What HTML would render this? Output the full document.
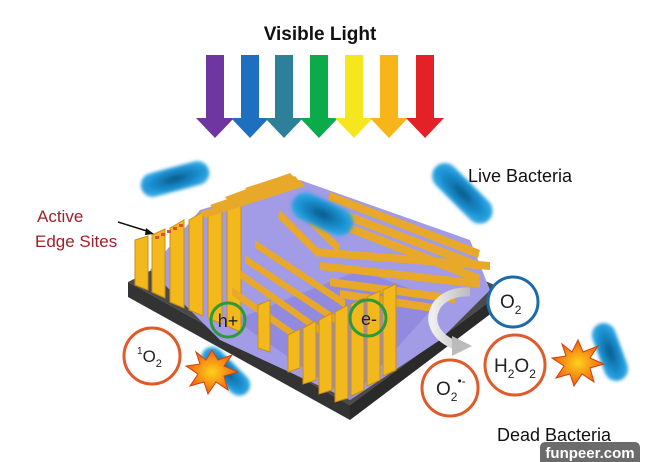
<!DOCTYPE html>
<html><head><meta charset="utf-8"><style>
html,body{margin:0;padding:0;background:#fff;}
svg{display:block;}
text{font-family:"Liberation Sans",sans-serif;}
</style></head><body>
<svg width="660" height="462" viewBox="0 0 660 462" xmlns="http://www.w3.org/2000/svg">
<defs>
<radialGradient id="bac" cx="50%" cy="50%" r="60%"><stop offset="0" stop-color="#0a5a8a"/><stop offset="0.6" stop-color="#1a8fd0"/><stop offset="1" stop-color="#3ab0ea"/></radialGradient>
<radialGradient id="boom" cx="50%" cy="50%" r="50%"><stop offset="0" stop-color="#ffd21a"/><stop offset="1" stop-color="#f06010"/></radialGradient>
<linearGradient id="garr" x1="0" x2="1"><stop offset="0" stop-color="#eee"/><stop offset="1" stop-color="#bbb"/></linearGradient>
<filter id="blur"><feGaussianBlur stdDeviation="1.5"/></filter>
</defs>
<text x="320" y="40" text-anchor="middle" font-size="19" font-weight="bold" fill="#111">Visible Light</text>
<g>
<path d="M206,55h18v63h10l-19,20l-19,-20h10z" fill="#6f35a0"/>
<path d="M241,55h18v63h10l-19,20l-19,-20h10z" fill="#1e6fc0"/>
<path d="M275,55h18v63h10l-19,20l-19,-20h10z" fill="#2e7f9a"/>
<path d="M310,55h18v63h10l-19,20l-19,-20h10z" fill="#0bab4a"/>
<path d="M345,55h18v63h10l-19,20l-19,-20h10z" fill="#f6e61e"/>
<path d="M380,55h18v63h10l-19,20l-19,-20h10z" fill="#f7b519"/>
<path d="M416,55h18v63h10l-19,20l-19,-20h10z" fill="#e42126"/>
</g>
<polygon points="128,282 300,195 505,290 350,405" fill="#4a4a4a"/>
<polygon points="128,282 350,405 350,420 128,297" fill="#333"/>
<polygon points="350,405 505,290 505,303 350,420" fill="#2a2a2a"/>
<polygon points="150,270 200,210 300,180 470,240 490,290 440,340 350,400 220,340" fill="#a29be6"/>
<polygon points="235,320 360,270 440,300 350,400" fill="#928ade"/>
<g fill="#f2b81c" stroke="#c8901a" stroke-width="1">
<polygon points="135,240 148,236 148,290 135,285"/>
<polygon points="152,235 165,229 165,298 152,292"/>
<polygon points="170,228 184,220 184,308 170,302"/>
<polygon points="189,220 203,212 203,316 189,310"/>
<polygon points="208,212 222,205 222,324 208,318"/>
<polygon points="227,205 241,198 241,332 227,326"/>
</g>
<g fill="#e8a82a">
<polygon points="200,212 300,180 305,186 205,218"/>
<polygon points="210,205 295,176 300,182 215,211"/>
<polygon points="225,197 290,173 295,178 230,203"/>
<polygon points="245,188 285,175 290,180 250,193"/>
<polygon points="330,192 480,250 478,258 328,200"/>
<polygon points="330,205 480,262 478,270 328,213"/>
<polygon points="335,218 480,275 478,283 333,226"/>
<polygon points="315,248 490,262 490,270 315,256"/>
<polygon points="320,262 480,280 480,288 320,270"/>
<polygon points="330,278 455,295 455,303 330,286"/>
<polygon points="340,290 440,305 440,313 340,298"/>
</g>
<g fill="#e8a82a">
<polygon points="255,240 345,300 345,308 255,248"/>
<polygon points="245,255 335,315 335,323 245,263"/>
<polygon points="240,270 325,330 325,338 240,278"/>
<polygon points="232,287 300,335 300,343 232,295"/>
<polygon points="280,210 320,250 318,258 278,218"/>
<polygon points="300,205 340,245 338,253 298,213"/>
</g>
<g fill="#f2b81c" stroke="#c8901a" stroke-width="1">
<polygon points="288,335 300,329 300,368 288,372"/>
<polygon points="303,328 316,321 316,380 303,384"/>
<polygon points="319,320 332,313 332,390 319,394"/>
<polygon points="335,312 348,305 348,398 335,402"/>
<polygon points="351,304 364,298 364,390 351,396"/>
<polygon points="367,297 380,291 380,380 367,386"/>
<polygon points="383,290 396,284 396,370 383,376"/>
<polygon points="258,305 270,300 270,352 258,348"/>
</g>
<g fill="#e0502a"><rect x="155" y="236" width="4" height="3"/><rect x="161" y="233" width="4" height="3"/><rect x="167" y="230" width="4" height="3"/><rect x="173" y="227" width="4" height="3"/><rect x="179" y="224" width="4" height="3"/></g>
<line x1="118" y1="222" x2="150" y2="232" stroke="#111" stroke-width="1.5"/>
<polygon points="154,234 146,228 145,235" fill="#111"/>
<text x="37" y="222" font-size="17" fill="#a0202a">Active</text>
<text x="35" y="247" font-size="17" fill="#a0202a">Edge Sites</text>
<g filter="url(#blur)">
<rect x="140" y="167" width="70" height="24" rx="12" fill="url(#bac)" transform="rotate(-15 175 179)"/>
<rect x="290" y="200" width="65" height="28" rx="14" fill="url(#bac)" transform="rotate(25 322 214)"/>
<rect x="425" y="180" width="75" height="26" rx="13" fill="url(#bac)" transform="rotate(45 462 193)"/>
<rect x="195" y="360" width="60" height="22" rx="11" fill="url(#bac)" transform="rotate(45 225 372)"/>
<rect x="580" y="340" width="60" height="24" rx="12" fill="url(#bac)" transform="rotate(70 610 352)"/>
</g>
<text x="468" y="182" font-size="18" fill="#111">Live Bacteria</text>
<polygon points="212,350 218,360 232,355 224,366 238,372 224,376 228,390 216,382 208,394 204,382 190,386 198,374 186,366 200,364 196,352 206,360" fill="url(#boom)" stroke="#d04010" stroke-width="1"/>
<polygon points="578,340 583,352 598,346 590,358 604,364 590,368 594,382 582,374 574,386 570,374 556,378 564,366 552,358 566,356 562,344 572,352" fill="url(#boom)" stroke="#d04010" stroke-width="1"/>
<path d="M470,292 C430,290 418,330 455,345" fill="none" stroke="url(#garr)" stroke-width="9"/>
<polygon points="452,336 472,346 452,356" fill="#bbb"/>
<circle cx="228" cy="320" r="17" fill="none" stroke="#2a9a3a" stroke-width="3"/>
<text x="228" y="327" text-anchor="middle" font-size="18" fill="#222">h+</text>
<circle cx="368" cy="318" r="18" fill="none" stroke="#2a9a3a" stroke-width="3"/>
<text x="369" y="325" text-anchor="middle" font-size="18" fill="#222">e-</text>
<circle cx="152" cy="356" r="28" fill="#fff" stroke="#e05a2a" stroke-width="3"/>
<text x="137" y="362" font-size="17" fill="#222"><tspan font-size="10" dy="-8">1</tspan><tspan dy="8">O</tspan><tspan font-size="11" dy="5">2</tspan></text>
<circle cx="513" cy="302" r="25" fill="#fff" stroke="#1e6aa8" stroke-width="3"/>
<text x="500" y="308" font-size="19" fill="#222">O<tspan font-size="12" dy="6">2</tspan></text>
<circle cx="515" cy="365" r="30" fill="#fff" stroke="#e05a2a" stroke-width="3"/>
<text x="494" y="372" font-size="19" fill="#222">H<tspan font-size="12" dy="6">2</tspan><tspan dy="-6">O</tspan><tspan font-size="12" dy="6">2</tspan></text>
<circle cx="450" cy="388" r="28" fill="#fff" stroke="#e05a2a" stroke-width="3"/>
<text x="436" y="395" font-size="19" fill="#222">O<tspan font-size="12" dy="6">2</tspan><tspan font-size="12" dy="-16">•-</tspan></text>
<text x="497" y="441" font-size="18" fill="#111">Dead Bacteria</text>
<rect x="540" y="442" width="100" height="26" rx="5" fill="#6b6b6b"/>
<text x="590" y="458" text-anchor="middle" font-size="15" font-weight="bold" fill="#fff">funpeer.com</text>
</svg>
</body></html>
